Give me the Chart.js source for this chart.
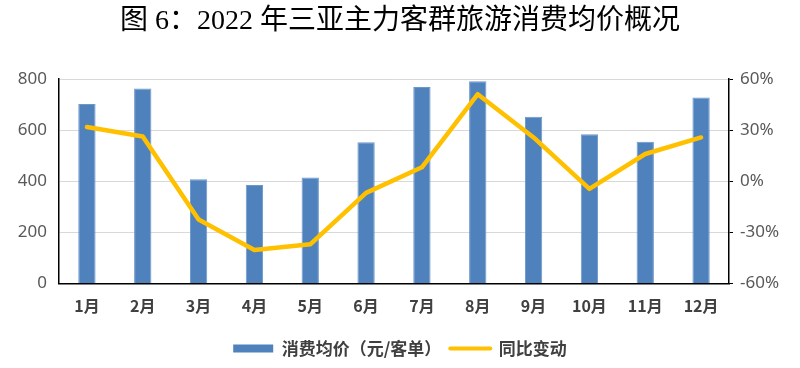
<!DOCTYPE html>
<html>
<head>
<meta charset="utf-8">
<script src="https://cdn.jsdelivr.net/npm/chart.js@4/dist/chart.umd.min.js"></script>
<style>
  html, body { margin: 0; padding: 0; background: #fff; }
  #wrap { width: 800px; height: 368px; position: relative; }
</style>
</head>
<body>
<div id="wrap"><canvas id="c" width="800" height="368"></canvas></div>
<script>
const titleText = '图 6：2022 年三亚主力客群旅游消费均价概况';
const months = ['1月','2月','3月','4月','5月','6月','7月','8月','9月','10月','11月','12月'];
const avgSpend = [702, 763, 408, 385, 415, 553, 769, 791, 652, 584, 555, 728];
const yoyChange = [31.8, 26.3, -22.4, -40.3, -37.0, -6.8, 8.2, 51.1, 25.7, -4.5, 16.0, 25.7];
const leftTicks = [0, 200, 400, 600, 800];
const rightTicks = [-60, -30, 0, 30, 60];
const barLabel = '消费均价（元/客单）';
const lineLabel = '同比变动';

const cjk = "'Noto Sans CJK SC', 'Noto Sans', sans-serif";

new Chart(document.getElementById('c'), {
  data: {
    labels: months,
    datasets: [
      {
        type: 'bar',
        label: barLabel,
        data: avgSpend,
        yAxisID: 'y',
        backgroundColor: '#4F81BD',
        borderColor: '#6C97CB',
        borderWidth: 1,
        barPercentage: 0.62,
        categoryPercentage: 0.5,
        order: 1
      },
      {
        type: 'line',
        label: lineLabel,
        data: yoyChange,
        yAxisID: 'y1',
        borderColor: '#FFC000',
        backgroundColor: '#FFC000',
        borderWidth: 4.5,
        pointRadius: 0,
        pointHoverRadius: 0,
        tension: 0,
        borderJoinStyle: 'round',
        borderCapStyle: 'round',
        order: 0
      }
    ]
  },
  options: {
    responsive: false,
    animation: false,
    devicePixelRatio: 1,
    layout: { padding: { left: 0, right: 0, top: 0, bottom: 1 } },
    plugins: {
      tooltip: { enabled: false },
      title: {
        display: true,
        text: titleText,
        color: '#000',
        font: { family: "'Liberation Serif', 'Noto Sans CJK SC', serif", size: 28, weight: 'normal', lineHeight: 1.2 },
        padding: { top: 5, bottom: 40.4 }
      },
      legend: {
        position: 'bottom',
        labels: {
          sort: (a, b) => a.datasetIndex - b.datasetIndex,
          color: '#404040',
          font: { family: cjk, size: 17, weight: 'bold' },
          usePointStyle: true,
          pointStyleWidth: 40,
          boxHeight: 8,
          padding: 9,
          generateLabels: (chart) => {
            const items = Chart.defaults.plugins.legend.labels.generateLabels(chart);
            items.forEach(it => {
              if (it.datasetIndex === 0) {
                it.pointStyle = 'rect';
                it.fillStyle = '#4F81BD';
                it.strokeStyle = '#4F81BD';
                it.lineWidth = 0;
              } else {
                it.pointStyle = 'line';
                it.strokeStyle = '#FFC000';
                it.lineWidth = 4;
                it.lineCap = 'round';
              }
            });
            return items;
          }
        }
      }
    },
    scales: {
      x: {
        grid: { display: false, drawTicks: false },
        border: { display: true, color: '#000', width: 1.5 },
        ticks: { color: '#404040', font: { family: cjk, size: 16, weight: 'bold' }, padding: 13, maxRotation: 0 },
        afterFit: (s) => { s.height = 47.5; }
      },
      y: {
        position: 'left',
        min: 0, max: 800,
        afterBuildTicks: (s) => { s.ticks = leftTicks.map(v => ({ value: v })); },
        grid: { color: '#D9D9D9', lineWidth: 1, drawTicks: false },
        border: { display: true, color: '#000', width: 1.5 },
        ticks: { color: '#595959', font: { family: "'Noto Sans', sans-serif", size: 17 }, padding: 12 },
        afterFit: (s) => { s.width = 59; }
      },
      y1: {
        position: 'right',
        min: -60, max: 60,
        afterBuildTicks: (s) => { s.ticks = rightTicks.map(v => ({ value: v })); },
        grid: { display: true, drawOnChartArea: false, drawTicks: true, tickLength: 4, color: '#000' },
        border: { display: true, color: '#000', width: 1.5 },
        ticks: { color: '#595959', font: { family: "'Noto Sans', sans-serif", size: 17 }, padding: 7, callback: (v) => v + '%' },
        afterFit: (s) => { s.width = 71; }
      }
    }
  }
});
</script>
</body>
</html>
